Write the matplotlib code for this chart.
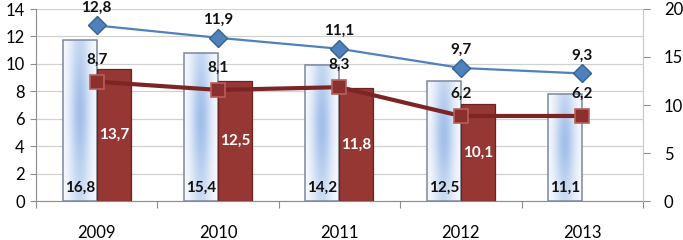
import numpy as np
import matplotlib.pyplot as plt
from matplotlib.colors import LinearSegmentedColormap

plt.rcParams['font.family'] = ['Lato', 'DejaVu Sans']

years = ['2009', '2010', '2011', '2012', '2013']
bar_light = [16.8, 15.4, 14.2, 12.5, 11.1]        # right axis
bar_red = [13.7, 12.5, 11.8, 10.1, np.nan]         # right axis
line_blue = [12.8, 11.9, 11.1, 9.7, 9.3]           # left axis
line_red = [8.7, 8.1, 8.3, 6.2, 6.2]               # left axis


def fmt(v):
    return ('%.1f' % v).replace('.', ',')


x = np.arange(len(years))
w = 0.28

fig = plt.figure(figsize=(6.83, 2.40), dpi=100)
ax = fig.add_axes([0.0527, 0.1625, 0.8887, 0.80])
ax2 = ax.twinx()
ax3 = ax.twinx()

grey = '#8c8c8c'

# left axis: grid + ticks
ax.set_ylim(0, 14)
ax.set_yticks(range(0, 15, 2))
ax.grid(axis='y', color='#d0d0d0', lw=0.9)
ax.set_axisbelow(True)
ax.set_xlim(-0.5, 4.5)
ax.set_xticks(np.arange(-0.5, 5, 1))
ax.set_xticklabels([])
ax.set_xticks(x, minor=True)
ax.set_xticklabels(years, minor=True)
ax.tick_params(axis='x', which='major', length=5, color=grey)
ax.tick_params(axis='x', which='minor', length=0, pad=17, labelsize=12)
ax.tick_params(axis='y', length=4, color=grey, labelsize=12, pad=4)
for s in ['left', 'bottom']:
    ax.spines[s].set_color(grey)
ax.spines['top'].set_visible(False)
ax.spines['right'].set_visible(False)

# right axis: bars
ax2.set_ylim(0, 20)
ax2.set_yticks(range(0, 21, 5))
ax2.tick_params(axis='y', length=5, color=grey, labelsize=12, pad=10)
ax2.spines['right'].set_color('#c8c8c8')
for s in ['left', 'bottom', 'top']:
    ax2.spines[s].set_visible(False)

cmap = LinearSegmentedColormap.from_list('lb', ['#f6f8fd', '#a3c0ea'])
uu, vv = np.meshgrid(np.linspace(0, 1, 40), np.linspace(0, 1, 80))
grad = np.exp(-((uu - 0.5) / 0.3) ** 2) * (0.5 + 0.5 * np.exp(-((vv - 0.55) / 0.35) ** 2))

bl = ax2.bar(x - w / 2, bar_light, w, color='#dbe5f4', lw=0, zorder=2)
for r in bl:
    im = ax2.imshow(grad, cmap=cmap, extent=[r.get_x(), r.get_x() + r.get_width(), 0, r.get_height()],
                    aspect='auto', zorder=2.1, origin='lower')
    im.set_clip_path(r)
ax2.bar(x - w / 2, bar_light, w, fill=False, edgecolor='#7a889c', lw=1.1, zorder=2.2)
ax2.bar(x + w / 2, bar_red, w, color='#963734', edgecolor='#6c2220', lw=0.9, zorder=3)
ax2.set_xlim(-0.5, 4.5)
ax2.set_ylim(0, 20)

for xi, v in zip(x, bar_light):
    ax2.annotate(fmt(v), (xi - w / 2, 0), xytext=(0, 9.5), textcoords='offset points',
                 ha='center', va='center', fontsize=11, fontweight='bold', color='#111111', zorder=5)
for xi, v in zip(x, bar_red):
    if not np.isnan(v):
        ax2.text(xi + w / 2, v / 2, fmt(v), ha='center', va='center', fontsize=11,
                 fontweight='bold', color='white', zorder=5)

# lines on left scale
ax3.set_ylim(0, 14)
ax3.set_yticks([])
for s in ax3.spines.values():
    s.set_visible(False)
ax3.plot(x, line_blue, color='#4f81bd', lw=1.6, marker='D', ms=9.5,
         mfc='#4f81bd', mec='#35628f', mew=1, zorder=4)
ax3.plot(x, line_red, color='#7b2624', lw=3, marker='s', ms=10,
         mfc='#8c302e', mec='#b5605d', mew=1.2, zorder=4)
for xi, v in zip(x, line_blue):
    ax3.annotate(fmt(v), (xi, v), xytext=(0, 13), textcoords='offset points',
                 ha='center', va='center', fontsize=11, fontweight='bold', color='#111111')
for xi, v in zip(x, line_red):
    ax3.annotate(fmt(v), (xi, v), xytext=(0, 16), textcoords='offset points',
                 ha='center', va='center', fontsize=11, fontweight='bold', color='#111111')
ax3.set_xlim(-0.5, 4.5)

fig.savefig('out.png', dpi=100)
